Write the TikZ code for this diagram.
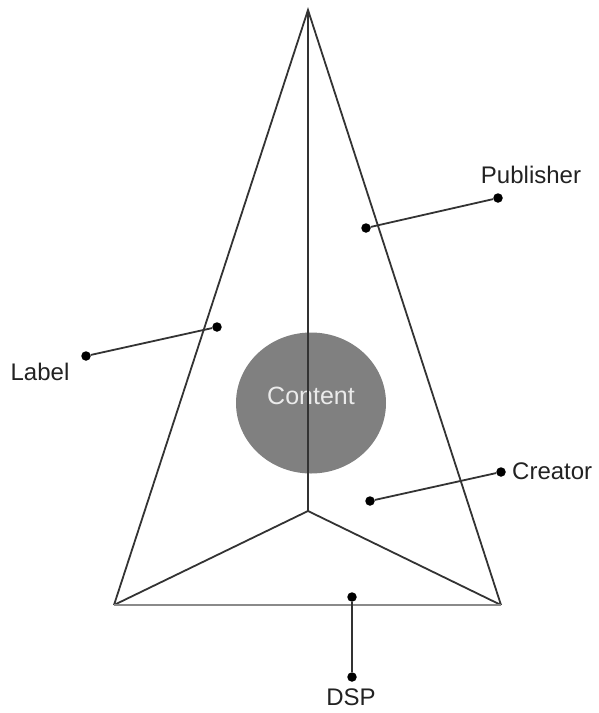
\documentclass[tikz,border=0pt]{standalone}
\usepackage{fontspec}
\setmainfont{Liberation Sans}
\usetikzlibrary{shapes.geometric}
\definecolor{edge}{HTML}{333333}
\definecolor{baseln}{HTML}{8A8A8A}
\definecolor{blob}{HTML}{808080}
\definecolor{ink}{HTML}{222222}
\tikzset{
  frame/.style={draw=edge, line width=1.8pt},
  leader/.style={draw=edge, line width=1.8pt},
  pin/.style={circle, fill=black, inner sep=0pt, minimum size=9.5pt},
  lbl/.style={font=\fontsize{24}{27}\selectfont, text=ink, inner sep=0pt}
}
\begin{document}
\begin{tikzpicture}[x=1pt,y=-1pt]
\useasboundingbox (0,0) rectangle (599,713);
\coordinate (apex) at (308,10);
\coordinate (bl) at (114,605);
\coordinate (br) at (501,605);
\coordinate (mid) at (308,511);
% content ellipse
\node[ellipse, fill=blob, minimum width=150pt, minimum height=141pt, inner sep=0pt] (content) at (311,403) {};
\node[lbl, font=\fontsize{25}{28}\selectfont, text=white!92!black] (ctext) at (311,396) {Content};
% frame
\draw[frame] (bl) -- (apex) -- (br);
\draw[frame] (apex) -- (mid);
\draw[frame] (bl) -- (mid) -- (br);
\draw[draw=baseln, line width=2.2pt] (bl) -- (br);
% pins
\node[pin] (la) at (217,327) {};
\node[pin] (lb) at (86,356) {};
\node[pin] (pa) at (366,228) {};
\node[pin] (pb) at (498,198) {};
\node[pin] (ca) at (370,501) {};
\node[pin] (cb) at (501,472) {};
\node[pin] (da) at (352,597) {};
\node[pin] (db) at (352,677) {};
\draw[leader] (la) -- (lb);
\draw[leader] (pa) -- (pb);
\draw[leader] (ca) -- (cb);
\draw[leader] (da) -- (db);
% labels
\node[lbl] (tlabel) at (40,372) {Label};
\node[lbl] (tpub) at (531,175) {Publisher};
\node[lbl, anchor=west] (tcre) at (512,471) {Creator};
\node[lbl] (tdsp) at (351,697) {DSP};
\end{tikzpicture}
\end{document}
